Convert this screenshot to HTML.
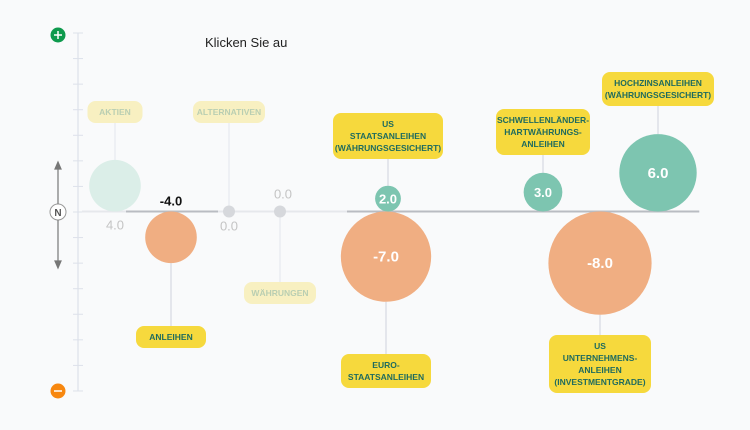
<!DOCTYPE html>
<html><head><meta charset="utf-8"><style>
html,body{margin:0;padding:0;background:#f9fafb;}
svg{display:block;font-family:"Liberation Sans",sans-serif;}
</style></head><body>
<svg id="chart" width="750" height="430">
<rect width="750" height="430" fill="#f9fafb"/>
<text x="205" y="47" font-size="13" fill="#222">Klicken Sie au</text>
<g id="axis"></g>
<g id="marks"></g>
</svg>
<script>
const names = ["AKTIEN","ANLEIHEN","ALTERNATIVEN","WÄHRUNGEN","US|STAATSANLEIHEN|(WÄHRUNGSGESICHERT)","EURO-|STAATSANLEIHEN","SCHWELLENLÄNDER-|HARTWÄHRUNGS-|ANLEIHEN","US|UNTERNEHMENS-|ANLEIHEN|(INVESTMENTGRADE)","HOCHZINSANLEIHEN|(WÄHRUNGSGESICHERT)"];
const values = [4, -4, 0, 0, 2, -7, 3, -8, 6];
const valueLabels = ["4.0","-4.0","0.0","0.0","2.0","-7.0","3.0","-8.0","6.0"];
const faded = [true,false,true,true,false,false,false,false,false];
// layout (not data)
const xs = [115,171,229,280,388,386,543,600,658];
const labelY = [112,337,112,293,136,371,132,364,89];
const labelW = [55,70,72,72,110,90,94,102,112];

const NS="http://www.w3.org/2000/svg";
const zeroY=211.5, rScale=6.45;
function el(tag,attrs,parent){const e=document.createElementNS(NS,tag);for(const k in attrs)e.setAttribute(k,attrs[k]);parent.appendChild(e);return e;}
const axis=document.getElementById('axis'), marks=document.getElementById('marks');

// vertical axis
let a=el('line',{x1:78,y1:33,x2:78,y2:391,stroke:'#dde1ea','stroke-width':1.2},axis);

for(let i=0;i<=14;i++){const y=33+i*25.57;const t=el('line',{x1:73,y1:y,x2:83,y2:y,stroke:'#dde1ea','stroke-width':1},axis);
}
// plus/minus/N
let p=el('circle',{cx:58,cy:35,r:7.5,fill:'#0e9a4d'},axis);
el('path',{d:'M54 35H62M58 31V39',stroke:'#fff','stroke-width':1.5},axis);
let m=el('circle',{cx:58,cy:391,r:7.5,fill:'#f7870f'},axis);
el('path',{d:'M54 391H62',stroke:'#fff','stroke-width':1.5},axis);
let n=el('circle',{cx:58,cy:212,r:8,fill:'#fff',stroke:'#999','stroke-width':1},axis);
let nt=el('text',{x:58,y:216,'font-size':10,'text-anchor':'middle',fill:'#555','font-weight':'bold'},axis);nt.textContent='N';
el('path',{d:'M58 204V164M55 169L58 162L61 169Z',stroke:'#777','stroke-width':1.2,fill:'#777'},axis);
el('path',{d:'M58 220V266M55 261L58 268L61 261Z',stroke:'#777','stroke-width':1.2,fill:'#777'},axis);
// zero line
let z=el('line',{x1:82,y1:zeroY,x2:700,y2:zeroY,stroke:'#e6e8ec','stroke-width':2},axis);
el('line',{x1:126,y1:zeroY,x2:218,y2:zeroY,stroke:'#b9bcc2','stroke-width':2},axis);
el('line',{x1:347,y1:zeroY,x2:699,y2:zeroY,stroke:'#b9bcc2','stroke-width':2},axis);

names.forEach((nm,i)=>{
  const v=values[i], x=xs[i], op=faded[i]?0.3:1;
  const g=el('g',{opacity:1},marks);
  
  const r=v===0?6:Math.abs(v)*rScale;
  const cy=v===0?zeroY:(v>0?zeroY-r:zeroY+r);
  const lines=nm.split('|'), lh=12, bh=lines.length*lh+10, ly=labelY[i];
  // connector
  const edge=ly<zeroY?cy-r:cy+r, bEdge=ly<zeroY?ly+bh/2:ly-bh/2;
  el('line',{x1:x,y1:bEdge,x2:x,y2:edge,stroke:'#d5d9e2','stroke-width':1.2,opacity:faded[i]?0.5:1},g);
  // bubble
  const fill=v===0?'#d6d8dc':(v>0?(faded[i]?'#dbeee8':'#7dc5b0'):'#f0ae82');
  const c=el('circle',{cx:x,cy:cy,r:r,fill:fill},g);
  
  // value label
  const t=el('text',{'font-size':Math.abs(v)>=5?15:13,'font-weight':'bold','text-anchor':'middle'},g);
  
  t.textContent=valueLabels[i];
  if(i===0){t.setAttribute('x',x);t.setAttribute('y',zeroY+18);t.setAttribute('fill','#c4c4c4');t.setAttribute('font-weight','normal');}
  else if(i===1){t.setAttribute('x',x);t.setAttribute('y',zeroY-6);t.setAttribute('fill','#111');}
  else if(i===2){t.setAttribute('x',x);t.setAttribute('y',zeroY+19);t.setAttribute('fill','#c4c4c4');t.setAttribute('font-weight','normal');}
  else if(i===3){t.setAttribute('x',x+3);t.setAttribute('y',zeroY-13);t.setAttribute('fill','#c4c4c4');t.setAttribute('font-weight','normal');}
  else {t.setAttribute('x',x);t.setAttribute('y',cy+5);t.setAttribute('fill','#fff');}
  // label box
  const w=labelW[i];
  const b=el('rect',{x:x-w/2,y:ly-bh/2,width:w,height:bh,rx:8,fill:'#f6d93d',opacity:op},g);
  
  lines.forEach((s,k)=>{
    const tt=el('text',{x:x,y:ly-bh/2+5+lh*k+9,'font-size':8.5,'font-weight':'bold','text-anchor':'middle',fill:faded[i]?'#6fa7a0':'#1f6b5e',opacity:faded[i]?0.45:1},g);
    
    tt.textContent=s;
  });
});
</script>
</body></html>
